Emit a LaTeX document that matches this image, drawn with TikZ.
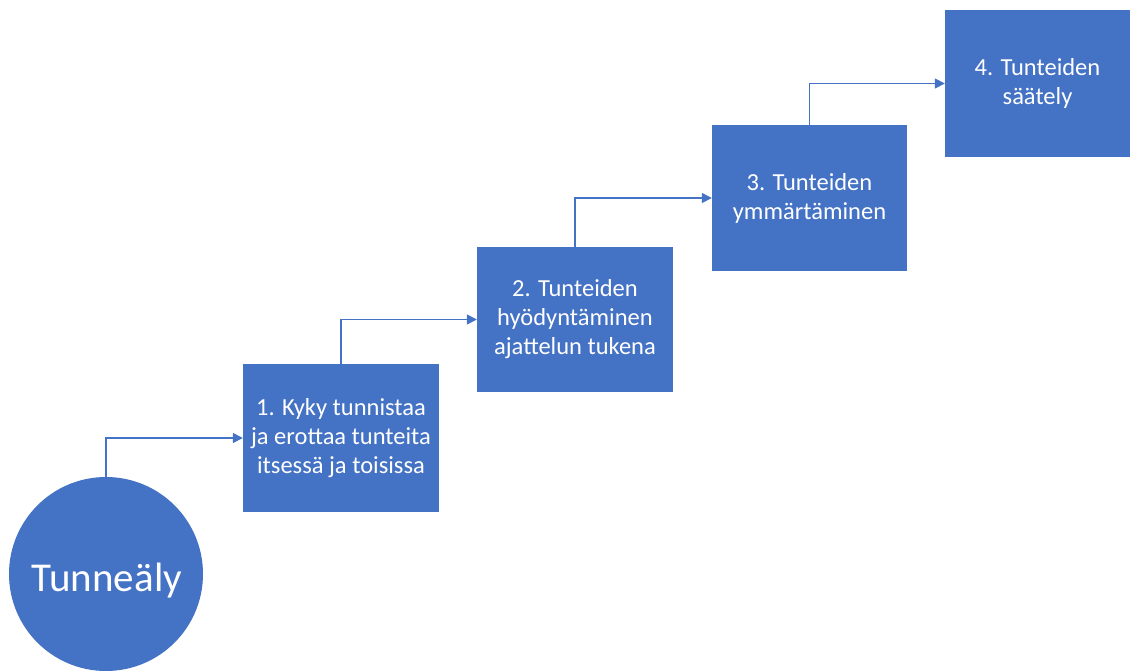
\documentclass[tikz,border=0pt]{standalone}
\usepackage{fontspec}
\setmainfont{Carlito}
\usetikzlibrary{arrows.meta}
\definecolor{officeblue}{HTML}{4472C4}
\tikzset{
  stepbox/.style={fill=officeblue, draw=none, text=white, align=center, inner sep=0pt,
    font=\fontsize{24.5}{29}\selectfont},
  conn/.style={draw=officeblue, line width=1.6pt, -{Triangle[length=10pt,width=10pt]}},
}
\begin{document}
\begin{tikzpicture}[x=1pt,y=-1pt]
\useasboundingbox (0,0) rectangle (1132,671);
\node[circle, fill=officeblue, minimum size=194pt, inner sep=0pt] (c) at (106,574) {};
\node[text=white, font=\fontsize{41}{48}\selectfont, inner sep=0pt] (ct) at (107,581) {Tunneäly};
\node[stepbox, minimum width=196pt, minimum height=148pt] (b1) at (341,438)
  {1. Kyky tunnistaa\\ja erottaa tunteita\\itsessä ja toisissa};
\node[stepbox, minimum width=196pt, minimum height=145pt] (b2) at (575,319.5)
  {2. Tunteiden\\hyödyntäminen\\ajattelun tukena};
\node[stepbox, minimum width=195pt, minimum height=146pt] (b3) at (809.5,198)
  {3. Tunteiden\\ymmärtäminen};
\node[stepbox, minimum width=185pt, minimum height=147pt] (b4) at (1037.5,83.5)
  {4. Tunteiden\\säätely};
\draw[conn] (c.north) |- (b1.west);
\draw[conn] (b1.north) |- (b2.west);
\draw[conn] (b2.north) |- (b3.west);
\draw[conn] (b3.north) |- (b4.west);
\end{tikzpicture}
\end{document}
